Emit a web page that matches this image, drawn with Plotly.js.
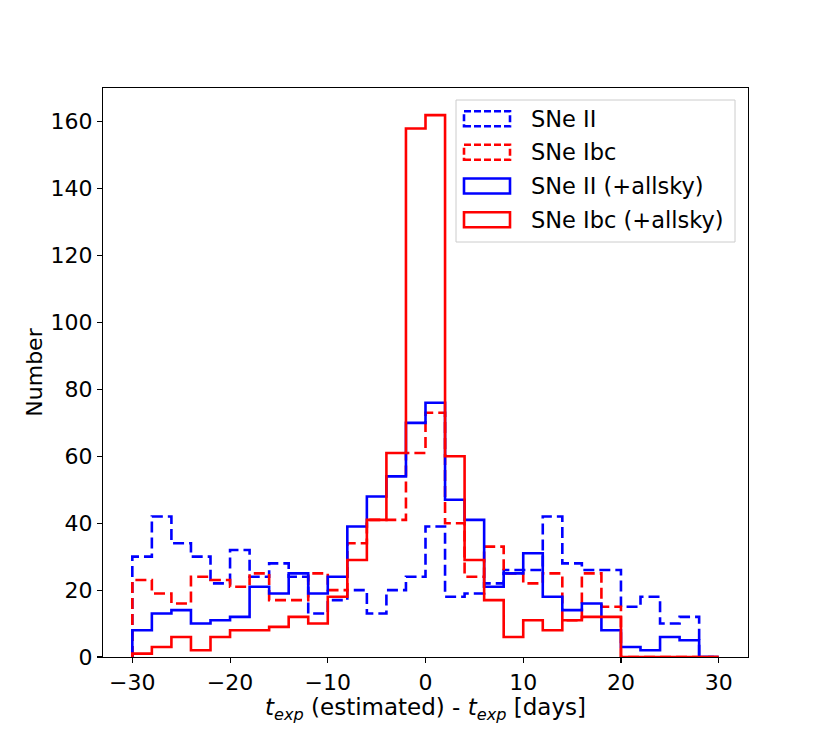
<!DOCTYPE html>
<html>
<head>
<meta charset="utf-8">
<script src="https://cdn.plot.ly/plotly-3.0.1.min.js"></script>
<style>html,body{margin:0;padding:0;background:#fff;}#chart{width:830px;height:738px;}</style>
</head>
<body>
<div id="chart"></div>
<script>
// Bin edges (days)
const binEdges = [-30,-28,-26,-24,-22,-20,-18,-16,-14,-12,-10,-8,-6,-4,-2,0,2,4,6,8,10,12,14,16,18,20,22,24,26,28,30];
// Counts per bin
const sneII       = [30,42,34,30,22,32,24,28,24,13, 17,20,13,20,24, 39,18,19,22,26, 26,42,28,26,26, 15,18,10,12,0];
const sneIbc      = [23,19,16,24,23,21,25,17,17,25, 20,34,41,41,61, 73,40,24,33,25, 22,25,11,25,15, 0,0,0,0,0];
const sneIIAll    = [8,13,14,10,11,12,21,19,25,19, 24,39,48,54,70, 76,47,41,21,25, 31,18,14,16,8, 3,2,6,5,0];
const sneIbcAll   = [1,3,6,2,6,8,8,9,12,10, 18,29,41,61,158, 162,60,29,17,6, 11,8,11,12,12, 0,0,0,0,0];
const seriesNames = ["SNe II", "SNe Ibc", "SNe II (+allsky)", "SNe Ibc (+allsky)"];
const xTicks = [-30,-20,-10,0,10,20,30];
const yTicks = [0,20,40,60,80,100,120,140,160];

function stepXY(edges, counts) {
  const n = counts.length;
  const xs = [edges[0]], ys = [0];
  for (let i = 0; i < n; i++) { xs.push(edges[i]); ys.push(counts[i]); }
  xs.push(edges[n]); ys.push(counts[n-1]);
  xs.push(edges[n]); ys.push(0);
  return {xs, ys};
}

const styles = [
  {color: "#0000ff", dash: "11px,5px"},
  {color: "#ff0000", dash: "11px,5px"},
  {color: "#0000ff", dash: "solid"},
  {color: "#ff0000", dash: "solid"}
];
const allCounts = [sneII, sneIbc, sneIIAll, sneIbcAll];

const traces = allCounts.map((c, i) => {
  const s = stepXY(binEdges, c);
  return {
    type: "scatter", mode: "lines", x: s.xs, y: s.ys,
    name: seriesNames[i], showlegend: false,
    line: {shape: "hv", color: styles[i].color, width: 2.6, dash: styles[i].dash},
    hoverinfo: "skip"
  };
});

// Plot area in pixels: left 103, right 748, top 88, bottom 657
const L = 103, R = 748, T = 88, B = 657;
const px = v => (v - L) / (R - L);
const py = v => (B - v) / (B - T);

const shapes = [];
const annotations = [];
// legend frame
shapes.push({type: "rect", xref: "paper", yref: "paper",
  x0: px(456), x1: px(735), y0: py(242), y1: py(100),
  line: {color: "#cccccc", width: 1}, fillcolor: "rgba(255,255,255,0.8)", layer: "above"});
const rowCenters = [118.7, 152.3, 186, 219.8];
rowCenters.forEach((yc, i) => {
  shapes.push({type: "rect", xref: "paper", yref: "paper",
    x0: px(464), x1: px(510), y0: py(yc + 7.5), y1: py(yc - 7.5),
    line: {color: styles[i].color, width: 2.6, dash: i < 2 ? "7px,3px" : "solid"},
    fillcolor: "rgba(0,0,0,0)", layer: "above"});
  annotations.push({xref: "paper", yref: "paper", x: px(529), y: py(yc),
    xanchor: "left", yanchor: "middle", showarrow: false, text: seriesNames[i],
    font: {family: "DejaVu Sans", size: 22.5, color: "#000"}});
});

const layout = {
  width: 830, height: 738,
  margin: {l: L, r: 830 - R, t: T, b: 738 - B},
  paper_bgcolor: "#ffffff", plot_bgcolor: "#ffffff",
  font: {family: "DejaVu Sans", size: 22, color: "#000"},
  showlegend: false,
  xaxis: {
    range: [-33, 33], tickvals: xTicks, ticks: "outside", ticklen: 5, tickwidth: 1.1,
    tickcolor: "#000", showline: true, mirror: true, linecolor: "#000", linewidth: 1.1,
    showgrid: false, zeroline: false,
    tickfont: {family: "DejaVu Sans", size: 22, color: "#000"},
    title: {text: "<i>t</i><sub><i>exp</i></sub> (estimated) - <i>t</i><sub><i>exp</i></sub> [days]",
            font: {family: "DejaVu Sans", size: 23, color: "#000"}, standoff: 0},
    automargin: false
  },
  yaxis: {
    range: [0, 170.1], tickvals: yTicks, ticks: "outside", ticklen: 5, tickwidth: 1.1,
    tickcolor: "#000", showline: true, mirror: true, linecolor: "#000", linewidth: 1.1,
    showgrid: false, zeroline: false,
    tickfont: {family: "DejaVu Sans", size: 22, color: "#000"},
    title: {text: "Number", font: {family: "DejaVu Sans", size: 22, color: "#000"}, standoff: 1},
    automargin: false
  },
  shapes: shapes,
  annotations: annotations
};

Plotly.newPlot("chart", traces, layout, {displayModeBar: false, staticPlot: true});
</script>
</body>
</html>
